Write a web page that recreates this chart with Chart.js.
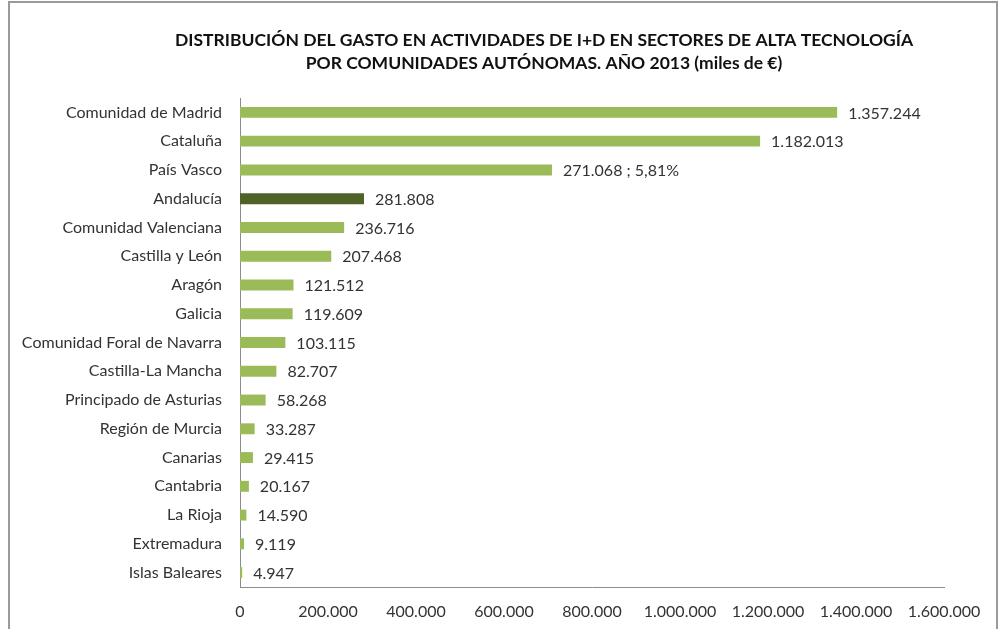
<!DOCTYPE html>
<html>
<head>
<meta charset="utf-8">
<script src="https://cdn.jsdelivr.net/npm/chart.js@4/dist/chart.umd.min.js"></script>
<style>
  html, body { margin: 0; padding: 0; background: #fff; }
  #wrap { width: 1000px; height: 629px; }
</style>
</head>
<body>
<div id="wrap"><canvas id="chart" width="1000" height="629"></canvas></div>
<script>
// Data
const regions = [
  'Comunidad de Madrid', 'Cataluña', 'País Vasco', 'Andalucía',
  'Comunidad Valenciana', 'Castilla y León', 'Aragón', 'Galicia',
  'Comunidad Foral de Navarra', 'Castilla-La Mancha', 'Principado de Asturias',
  'Región de Murcia', 'Canarias', 'Cantabria', 'La Rioja', 'Extremadura', 'Islas Baleares'
];
// bar lengths as drawn (País Vasco bar is drawn longer than its label says)
const spending = [
  1357244, 1182013, 709000, 281808, 236716, 207468, 121512, 119609,
  103115, 82707, 58268, 33287, 29415, 20167, 14590, 9119, 4947
];
const valueLabels = [
  '1.357.244', '1.182.013', '271.068 ; 5,81%', '281.808', '236.716', '207.468',
  '121.512', '119.609', '103.115', '82.707', '58.268', '33.287', '29.415',
  '20.167', '14.590', '9.119', '4.947'
];
const highlight = 'Andalucía';
const xTicks = [0, 200000, 400000, 600000, 800000, 1000000, 1200000, 1400000, 1600000];
const titleLines = [
  'DISTRIBUCIÓN DEL GASTO EN ACTIVIDADES DE I+D EN SECTORES DE ALTA TECNOLOGÍA',
  'POR COMUNIDADES AUTÓNOMAS. AÑO 2013 (miles de €)'
];

const LIGHT = '#9bbb59';
const DARK = '#4f6228';
const FONT = 'Lato, "Open Sans", sans-serif';

function fmt(n) {
  return String(n).replace(/\B(?=(\d{3})+(?!\d))/g, '.');
}

// outer frame of the picture
const framePlugin = {
  id: 'frame',
  beforeDraw(chart) {
    const ctx = chart.ctx;
    ctx.save();
    ctx.fillStyle = '#fff';
    ctx.fillRect(0, 0, chart.width, chart.height);
    ctx.strokeStyle = '#9a9a9a';
    ctx.lineWidth = 2;
    ctx.strokeRect(9, 2, 988, 700);
    ctx.restore();
  }
};

// two-line title, centred a bit right of the canvas middle like the original
const titlePlugin = {
  id: 'bigTitle',
  afterDraw(chart) {
    const ctx = chart.ctx;
    ctx.save();
    ctx.font = 'bold 17.5px ' + FONT;
    ctx.fillStyle = '#111';
    ctx.textAlign = 'center';
    ctx.textBaseline = 'middle';
    titleLines.forEach((line, i) => ctx.fillText(line, 544, 40 + i * 23));
    ctx.restore();
  }
};

// value labels right of each bar
const valueLabelPlugin = {
  id: 'valueLabels',
  afterDatasetsDraw(chart) {
    const ctx = chart.ctx;
    const meta = chart.getDatasetMeta(0);
    ctx.save();
    ctx.font = '16px ' + FONT;
    ctx.fillStyle = '#333';
    ctx.textBaseline = 'middle';
    ctx.textAlign = 'left';
    meta.data.forEach((bar, i) => {
      ctx.fillText(valueLabels[i], bar.x + 11, bar.y + 1);
    });
    ctx.restore();
  }
};

new Chart(document.getElementById('chart'), {
  type: 'bar',
  data: {
    labels: regions,
    datasets: [{
      data: spending,
      backgroundColor: regions.map(r => r === highlight ? DARK : LIGHT),
      categoryPercentage: 1,
      barPercentage: 0.38
    }]
  },
  options: {
    indexAxis: 'y',
    responsive: false,
    animation: false,
    layout: { padding: { left: 0, right: 56, top: 98, bottom: 0 } },
    plugins: {
      legend: { display: false },
      tooltip: { enabled: false },
      title: { display: false }
    },
    scales: {
      x: {
        min: 0,
        max: 1600000,
        afterBuildTicks(scale) {
          scale.ticks = xTicks.map(v => ({ value: v }));
        },
        afterFit(scale) { scale.height = 42; },
        grid: { display: false },
        border: { display: true, color: '#8c8c8c', width: 1 },
        ticks: {
          padding: 7,
          color: '#333',
          maxRotation: 0,
          font: { family: FONT, size: 16 },
          callback: v => fmt(v)
        }
      },
      y: {
        afterFit(scale) { scale.width = 240; },
        grid: { display: false },
        border: { display: true, color: '#8c8c8c', width: 1 },
        ticks: {
          padding: 10,
          color: '#333',
          font: { family: FONT, size: 16 }
        }
      }
    }
  },
  plugins: [framePlugin, valueLabelPlugin, titlePlugin]
});
</script>
</body>
</html>
